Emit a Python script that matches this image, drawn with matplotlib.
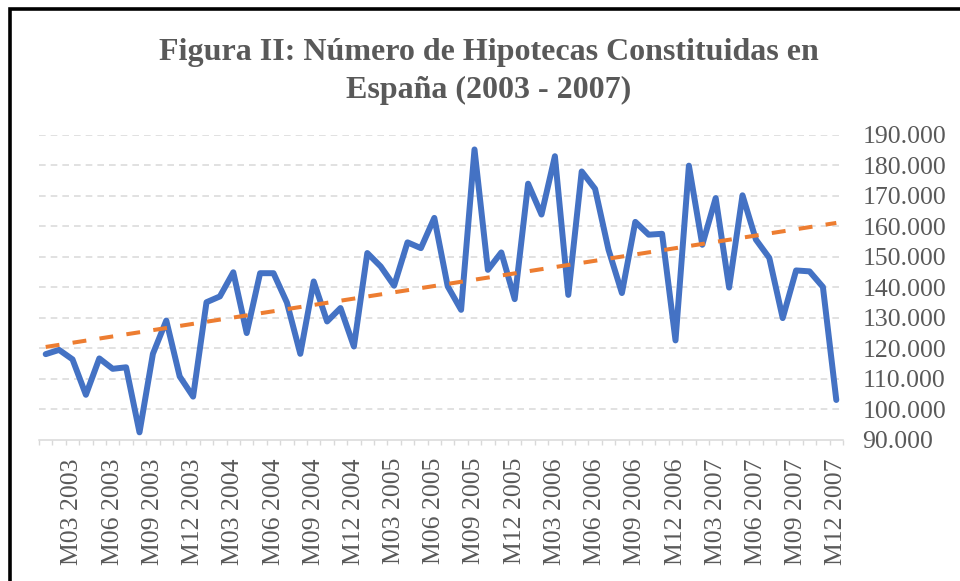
import numpy as np
import matplotlib
matplotlib.use('Agg')
import matplotlib.pyplot as plt
from matplotlib.lines import Line2D
from matplotlib.ticker import FuncFormatter, FixedLocator

plt.rcParams['font.family'] = ['Liberation Serif', 'DejaVu Serif']
plt.rcParams['lines.scale_dashes'] = False

# hipotecas constituidas, miles, ene 2003 - dic 2007
hipotecas = [118.1, 119.5, 116.4, 104.8, 116.7, 113.3, 113.8, 92.5, 118.2, 129.1, 110.8, 104.2,
             135.1, 137.0, 144.9, 125.0, 144.6, 144.6, 135.0, 118.2, 141.9, 128.8, 133.2, 120.6,
             151.2, 146.8, 140.5, 154.7, 152.8, 162.7, 140.3, 132.6, 185.1, 145.7, 151.4, 136.1,
             173.9, 163.8, 182.9, 137.5, 177.9, 172.2, 152.3, 138.1, 161.4, 157.2, 157.5, 122.6,
             179.8, 153.9, 169.2, 139.9, 170.1, 155.6, 149.6, 129.9, 145.5, 145.2, 140.1, 103.1]
years = [2003, 2004, 2005, 2006, 2007]
meses_lbl = ['M03', 'M06', 'M09', 'M12']
etiquetas = ['%s %d' % (m, y) for y in years for m in meses_lbl]
y_ticks = list(range(90, 191, 10))

gris = '#595959'
azul = '#4472C4'
naranja = '#ED7D31'

x = np.arange(len(hipotecas))
# tendencia lineal como la de excel
coef = np.polyfit(x, hipotecas, 1)
tendencia = np.polyval(coef, x)

fig = plt.figure(figsize=(9.6, 5.81), dpi=100)
ax = fig.add_axes([39 / 960, 1 - 440 / 581, 804 / 960, (440 - 134.5) / 581])

for v in y_ticks[1:]:
    ax.axhline(v, color='#D9D9D9', lw=1.1, ls=(0, (4.8, 3.6)), zorder=1)

ax.plot(x, hipotecas, color=azul, lw=4.3, solid_joinstyle='round', solid_capstyle='round', zorder=3)
ax.plot(x, tendencia, color=naranja, lw=2.9, ls=(0, (10.0, 9.6)), dash_capstyle='butt', zorder=4)

ax.set_xlim(-0.5, len(hipotecas) - 0.5)
ax.set_ylim(90, 190)

for s in ['top', 'left', 'right']:
    ax.spines[s].set_visible(False)
ax.spines['bottom'].set_color('#D9D9D9')
ax.spines['bottom'].set_linewidth(1.1)

ax.yaxis.tick_right()
ax.set_yticks(y_ticks)
ax.yaxis.set_major_formatter(FuncFormatter(lambda v, p: '%d.000' % v))
ax.tick_params(axis='y', length=0, pad=14, labelsize=18.5, labelcolor=gris)

pos = [2 + 3 * k for k in range(len(etiquetas))]
ax.xaxis.set_major_locator(FixedLocator(pos))
ax.set_xticklabels(etiquetas, rotation=90)
ax.xaxis.set_minor_locator(FixedLocator(np.arange(-0.5, len(hipotecas), 1.0)))
ax.tick_params(axis='x', which='major', length=0, pad=13, labelsize=18.5, labelcolor=gris)
ax.tick_params(axis='x', which='minor', length=3.8, width=1.0, color='#D9D9D9')

fig.text(489 / 960, 1 - 60 / 581, 'Figura II: Número de Hipotecas Constituidas en',
         ha='center', va='baseline', fontsize=23, fontweight='bold', color=gris)
fig.text(489 / 960, 1 - 98 / 581, 'España (2003 - 2007)',
         ha='center', va='baseline', fontsize=23, fontweight='bold', color=gris)

# marco negro
fig.add_artist(Line2D([9.5 / 960, 9.5 / 960, 1.0], [0.0, 1 - 9 / 581, 1 - 9 / 581],
                      transform=fig.transFigure, color='black', lw=2.6,
                      solid_joinstyle='miter'))

fig.savefig('out.png', dpi=100)
